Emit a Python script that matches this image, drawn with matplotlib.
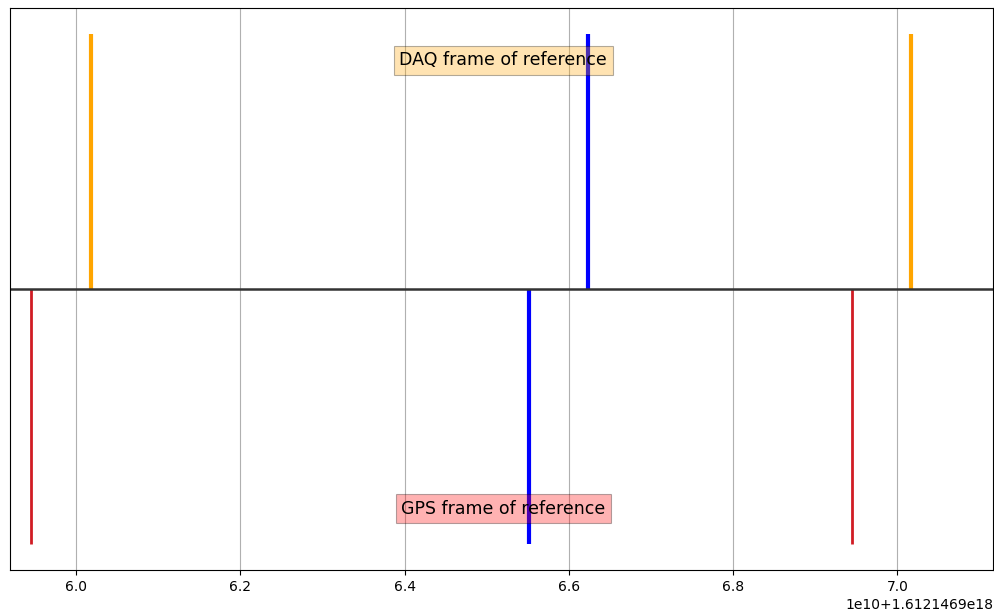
import matplotlib
matplotlib.use("Agg")
import matplotlib.pyplot as plt

offset = 1.6121469e18
# event times, in units of 1e10 ns above the offset
daq_ticks = [6.018, 7.017]
daq_marker = [6.623]
gps_ticks = [5.945, 6.945]
gps_marker = [6.551]

to_ns = lambda v: [offset + x * 1e10 for x in v]

fig = plt.figure(figsize=(9.94, 6.13), dpi=100)
ax = fig.add_axes([10 / 994, 1 - 570 / 613, 983 / 994, 562 / 613])

ax.vlines(to_ns(daq_ticks), 0, 1, color="orange", linewidth=3)
ax.vlines(to_ns(daq_marker), 0, 1, color="blue", linewidth=3)
ax.vlines(to_ns(gps_ticks), -1, 0, color="#d01c24", linewidth=2)
ax.vlines(to_ns(gps_marker), -1, 0, color="blue", linewidth=3)
ax.axhline(0, color="#333333", linewidth=1.8)

ax.text(offset + 6.52e10, 0.895, "DAQ frame of reference", ha="center", va="center",
        fontsize=12.5, bbox=dict(facecolor="orange", alpha=0.3, edgecolor="black", linewidth=0.8))
ax.text(offset + 6.52e10, -0.86, "GPS frame of reference", ha="center", va="center",
        fontsize=12.5, bbox=dict(facecolor="red", alpha=0.3, edgecolor="black", linewidth=0.8))

ax.set_xlim(offset + 5.9196e10, offset + 7.1163e10)
ax.set_ylim(-1.1, 1.1)
ax.set_yticks([])
ax.grid(axis="x")

fig.savefig("out.png", dpi=100)
